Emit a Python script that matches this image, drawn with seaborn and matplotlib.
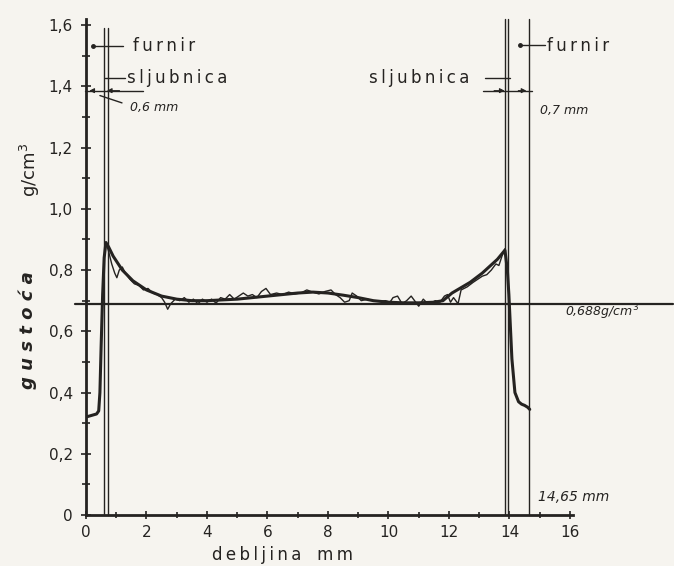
import matplotlib
matplotlib.use("Agg")
import matplotlib.pyplot as plt
import seaborn as sns
import pandas as pd

# ---- data ----
smooth_x = [0, 0.35, 0.42, 0.46, 0.5, 0.55, 0.6, 0.66, 0.75, 0.9, 1.2, 1.55, 2.0, 2.5, 3.0,
            3.5, 4.0, 5.0, 6.0, 7.0, 7.5, 8.0, 8.5, 9.0, 9.5, 10.0, 10.5, 11.0, 11.5, 11.8,
            12.1, 12.7, 13.1, 13.6, 13.85, 13.93, 13.98, 14.08, 14.18, 14.3, 14.4, 14.5, 14.6, 14.67]
smooth_y = [0.32, 0.33, 0.34, 0.40, 0.55, 0.72, 0.84, 0.89, 0.875, 0.845, 0.80, 0.765, 0.735, 0.715, 0.705,
            0.70, 0.70, 0.705, 0.715, 0.725, 0.728, 0.725, 0.718, 0.71, 0.70, 0.695, 0.693, 0.693, 0.695, 0.70,
            0.725, 0.76, 0.79, 0.835, 0.865, 0.80, 0.72, 0.51, 0.40, 0.37, 0.362, 0.358, 0.352, 0.345]

noisy_x = [0.66, 0.75, 0.85, 0.95, 1.02, 1.1, 1.2, 1.3, 1.45, 1.6, 1.75, 1.9, 2.05, 2.2, 2.35, 2.5,
           2.6, 2.7, 2.8, 2.95, 3.1, 3.25, 3.4, 3.55, 3.7, 3.85, 4.0, 4.15, 4.3, 4.45, 4.6, 4.75,
           4.9, 5.05, 5.2, 5.35, 5.5, 5.65, 5.8, 5.95, 6.1, 6.3, 6.5, 6.7, 6.9, 7.1, 7.3, 7.5,
           7.7, 7.9, 8.1, 8.25, 8.4, 8.55, 8.7, 8.8, 8.95, 9.1, 9.3, 9.5, 9.7, 9.9, 10.05, 10.15,
           10.3, 10.45, 10.6, 10.75, 10.9, 11.0, 11.15, 11.3, 11.45, 11.55, 11.7, 11.85, 11.95,
           12.05, 12.15, 12.3, 12.4, 12.6, 12.8, 12.95, 13.1, 13.25, 13.4, 13.55, 13.65, 13.75, 13.85]
noisy_y = [0.89, 0.86, 0.82, 0.79, 0.775, 0.80, 0.81, 0.79, 0.77, 0.755, 0.75, 0.735, 0.74, 0.725, 0.72, 0.71,
           0.695, 0.672, 0.69, 0.705, 0.70, 0.71, 0.695, 0.705, 0.69, 0.705, 0.695, 0.705, 0.692, 0.71, 0.705, 0.72,
           0.705, 0.715, 0.725, 0.715, 0.72, 0.71, 0.73, 0.74, 0.72, 0.725, 0.72, 0.728, 0.722, 0.725, 0.735, 0.728,
           0.722, 0.73, 0.735, 0.72, 0.71, 0.695, 0.70, 0.725, 0.715, 0.70, 0.705, 0.70, 0.698, 0.70, 0.695, 0.71,
           0.715, 0.69, 0.70, 0.715, 0.695, 0.682, 0.705, 0.69, 0.695, 0.70, 0.695, 0.715, 0.72,
           0.695, 0.71, 0.69, 0.735, 0.745, 0.76, 0.77, 0.78, 0.785, 0.80, 0.82, 0.815, 0.845, 0.87]

mean_density = 0.688
left_lines = [0.6, 0.72]
right_lines = [13.85, 13.95, 14.65]
x_ticks = [0, 2, 4, 6, 8, 10, 12, 14, 16]
y_ticks = [0, 0.2, 0.4, 0.6, 0.8, 1.0, 1.2, 1.4, 1.6]
y_ticklabels = ["0", "0,2", "0,4", "0,6", "0,8", "1,0", "1,2", "1,4", "1,6"]

# ---- style ----
sns.set_style("ticks")
plt.rcParams["font.family"] = ["DejaVu Sans"]
INK = "#252321"
PAPER = "#f6f4ef"
TS = "\u2009"  # thin space for letter-spaced lettering


def spaced(s):
    return TS.join(s)


fig = plt.figure(figsize=(6.74, 5.66), dpi=100, facecolor=PAPER)
ax = fig.add_axes([86 / 674, 51 / 566, 487 / 674, 496 / 566])
ax.set_facecolor(PAPER)

df_s = pd.DataFrame({"x": smooth_x, "y": smooth_y})
df_n = pd.DataFrame({"x": noisy_x, "y": noisy_y})
sns.lineplot(data=df_n, x="x", y="y", ax=ax, color=INK, lw=1.0, sort=False, estimator=None)
sns.lineplot(data=df_s, x="x", y="y", ax=ax, color=INK, lw=2.2, sort=False, estimator=None)

ax.set_xlim(0, 16.1)
ax.set_ylim(0, 1.62)

# mean line
ax.plot([-0.36, 19.4], [mean_density, mean_density], color=INK, lw=1.6, clip_on=False)

# veneer / glue lines
for xv in left_lines:
    ax.plot([xv, xv], [0, 1.59], color=INK, lw=1.0, clip_on=False)
for xv in right_lines:
    ax.plot([xv, xv], [0, 1.62], color=INK, lw=1.0, clip_on=False)

# spines and ticks
sns.despine(ax=ax)
for s in ["left", "bottom"]:
    ax.spines[s].set_linewidth(2.0)
    ax.spines[s].set_color(INK)
ax.set_xticks(x_ticks)
ax.set_xticklabels([str(v) for v in x_ticks])
ax.set_xticks([1, 3, 5, 7, 9, 11, 13, 15], minor=True)
ax.set_yticks(y_ticks)
ax.set_yticklabels(y_ticklabels)
ax.set_yticks([0.1, 0.3, 0.5, 0.7, 0.9, 1.1, 1.3, 1.5], minor=True)
ax.tick_params(axis="both", which="both", direction="inout", color=INK, width=1.2, labelcolor=INK,
               labelsize=11)
ax.tick_params(axis="y", which="major", length=7, pad=6)
ax.tick_params(axis="y", which="minor", length=6)
ax.tick_params(axis="x", which="major", length=6, pad=4)
ax.tick_params(axis="x", which="minor", length=5)
ax.set_xlabel("")
ax.set_ylabel("")

# annotations left
ax.plot([0.23, 1.22], [1.533, 1.533], color=INK, lw=1.0, clip_on=False)
ax.plot([0.23], [1.533], "o", color=INK, ms=2.5, clip_on=False)
ax.text(1.55, 1.533, spaced("furnir"), fontsize=12, color=INK, va="center", ha="left")
ax.plot([0.63, 1.29], [1.428, 1.428], color=INK, lw=1.0, clip_on=False)
ax.text(1.36, 1.428, spaced("sljubnica"), fontsize=12, color=INK, va="center", ha="left")
ax.plot([-0.03, 1.9], [1.386, 1.386], color=INK, lw=1.0, clip_on=False)
ax.annotate("", xy=(0.02, 1.386), xytext=(0.35, 1.386),
            arrowprops=dict(arrowstyle="-|>", color=INK, lw=0.8, mutation_scale=7), annotation_clip=False)
ax.annotate("", xy=(0.6, 1.386), xytext=(1.2, 1.386),
            arrowprops=dict(arrowstyle="-|>", color=INK, lw=0.8, mutation_scale=7), annotation_clip=False)
ax.plot([0.46, 1.19], [1.37, 1.346], color=INK, lw=1.0, clip_on=False)
ax.text(1.45, 1.33, "0,6 mm", fontsize=9, style="italic", color=INK, va="center", ha="left")

# annotations right
ax.plot([14.35, 15.17], [1.536, 1.536], color=INK, lw=1.0, clip_on=False)
ax.plot([14.35], [1.536], "o", color=INK, ms=2.5, clip_on=False)
ax.text(15.24, 1.533, spaced("furnir"), fontsize=12, color=INK, va="center", ha="left", clip_on=False)
ax.text(12.69, 1.428, spaced("sljubnica"), fontsize=12, color=INK, va="center", ha="right")
ax.plot([13.19, 14.02], [1.428, 1.428], color=INK, lw=1.0, clip_on=False)
ax.plot([13.12, 14.74], [1.386, 1.386], color=INK, lw=1.0, clip_on=False)
ax.annotate("", xy=(13.93, 1.386), xytext=(13.4, 1.386),
            arrowprops=dict(arrowstyle="-|>", color=INK, lw=0.8, mutation_scale=7), annotation_clip=False)
ax.annotate("", xy=(14.65, 1.386), xytext=(14.2, 1.386),
            arrowprops=dict(arrowstyle="-|>", color=INK, lw=0.8, mutation_scale=7), annotation_clip=False)
ax.text(15.0, 1.32, "0,7 mm", fontsize=9, style="italic", color=INK, va="center", ha="left")

ax.text(15.83, 0.663, "0,688g/cm$^3$", fontsize=9, style="italic", color=INK, va="center", ha="left",
        clip_on=False)
ax.text(14.94, 0.059, "14,65 mm", fontsize=10, style="italic", color=INK, va="center", ha="left")

# axis titles
fig.text(282 / 674, 1 - 555 / 566, spaced("debljina") + "   " + spaced("mm"), fontsize=12, color=INK,
         ha="center", va="center")
fig.text(28 / 674, 1 - 330 / 566, "g u s t o ć a", fontsize=13, style="italic", fontweight="bold",
         color=INK, rotation=90, ha="center", va="center")
fig.text(30 / 674, 1 - 170 / 566, "g/cm$^3$", fontsize=13, color=INK, rotation=90, ha="center", va="center")

fig.savefig("out.png", dpi=100, facecolor=PAPER)
